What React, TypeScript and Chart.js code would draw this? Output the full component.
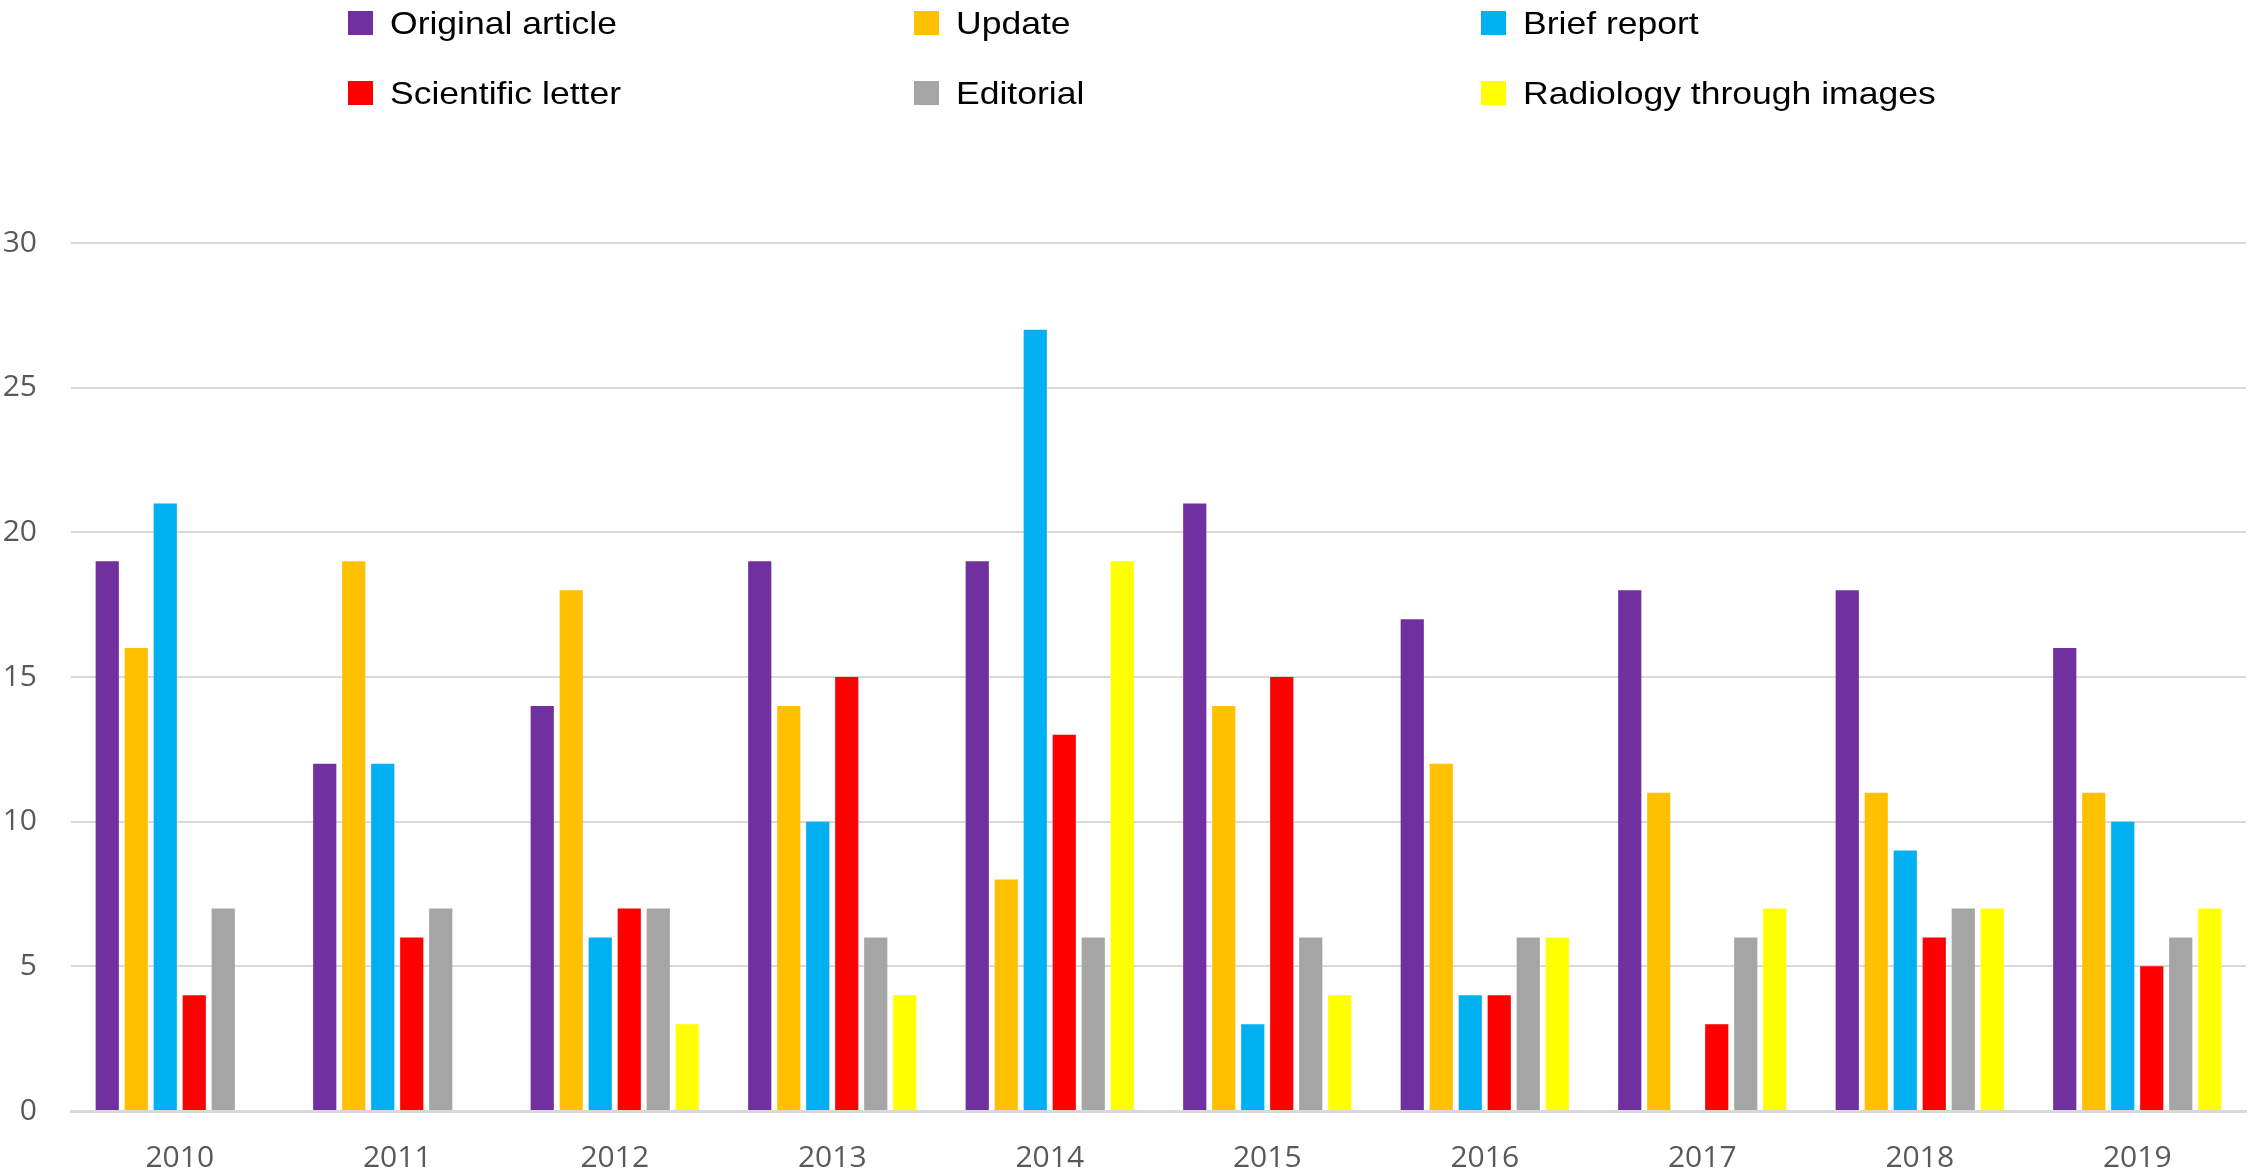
import React, { useEffect, useRef } from "react";
import { Chart, registerables } from "chart.js";

Chart.register(...registerables);

const categories = ["2010", "2011", "2012", "2013", "2014", "2015", "2016", "2017", "2018", "2019"];

const originalArticle = [19, 12, 14, 19, 19, 21, 17, 18, 18, 16];
const update = [16, 19, 18, 14, 8, 14, 12, 11, 11, 11];
const briefReport = [21, 12, 6, 10, 27, 3, 4, 0, 9, 10];
const scientificLetter = [4, 6, 7, 15, 13, 15, 4, 3, 6, 5];
const editorial = [7, 7, 7, 6, 6, 6, 6, 6, 7, 6];
const radiologyThroughImages = [0, 0, 3, 4, 19, 4, 6, 7, 7, 7];

const seriesNames = [
  "Original article",
  "Update",
  "Brief report",
  "Scientific letter",
  "Editorial",
  "Radiology through images",
];
const seriesColors = ["#7030A0", "#FFC000", "#00B0F0", "#FF0000", "#A5A5A5", "#FFFF00"];
const seriesValues = [originalArticle, update, briefReport, scientificLetter, editorial, radiologyThroughImages];

const yTicks = [0, 5, 10, 15, 20, 25, 30];

// legend grid placement (column x of swatch, row center y)
const legendCols = [348, 914, 1481];
const legendRows = [23, 93];

export default function App() {
  const canvasRef = useRef<HTMLCanvasElement | null>(null);

  useEffect(() => {
    document.body.style.margin = "0";
    const ctx = canvasRef.current;
    if (!ctx) return;
    const chart = new Chart(ctx, {
      type: "bar",
      data: {
        labels: categories,
        datasets: seriesNames.map((name, i) => ({
          label: name,
          data: seriesValues[i],
          backgroundColor: seriesColors[i],
          borderWidth: 0,
          barPercentage: 0.8,
          categoryPercentage: 0.8,
        })),
      },
      options: {
        animation: false,
        responsive: false,
        maintainAspectRatio: false,
        devicePixelRatio: 1,
        layout: { padding: { top: 243, left: 3, right: 4, bottom: 0 } },
        plugins: {
          legend: { display: false },
          tooltip: { enabled: false },
        },
        scales: {
          x: {
            grid: { display: false, drawTicks: false },
            border: { display: true, color: "#d9d9d9", width: 3 },
            ticks: {
              color: "#595959",
              font: { family: "Open Sans", size: 30 },
              padding: 29,
            },
            afterFit: (axis: any) => {
              axis.height = 62;
            },
          },
          y: {
            min: 0,
            max: 30,
            afterBuildTicks: (axis: any) => {
              axis.ticks = yTicks.map((v) => ({ value: v }));
            },
            grid: { color: "#d9d9d9", lineWidth: 2, drawTicks: false },
            border: { display: false },
            ticks: {
              color: "#595959",
              font: { family: "Open Sans", size: 30 },
              padding: 34,
            },
            afterFit: (axis: any) => {
              axis.width = 68;
            },
          },
        },
      },
    });
    return () => chart.destroy();
  }, []);

  return (
    <div style={{ position: "relative", width: 2250, height: 1173, background: "#fff", overflow: "hidden" }}>
      <canvas ref={canvasRef} width={2250} height={1173} style={{ position: "absolute", left: 0, top: 0, width: 2250, height: 1173 }} />
      {seriesNames.map((name, i) => {
        const col = i % 3;
        const row = Math.floor(i / 3);
        return (
          <div
            key={name}
            style={{
              position: "absolute",
              left: legendCols[col],
              top: legendRows[row] - 20,
              height: 40,
              display: "flex",
              alignItems: "center",
              fontFamily: "'Liberation Sans', Arial, sans-serif",
              fontSize: 32,
              color: "#000",
              whiteSpace: "nowrap",
            }}
          >
            <span style={{ display: "inline-block", width: 25, height: 24, background: seriesColors[i], marginRight: 17 }} />
            <span style={{ display: "inline-block", transform: "scaleX(1.11)", transformOrigin: "left center" }}>{name}</span>
          </div>
        );
      })}
    </div>
  );
}
